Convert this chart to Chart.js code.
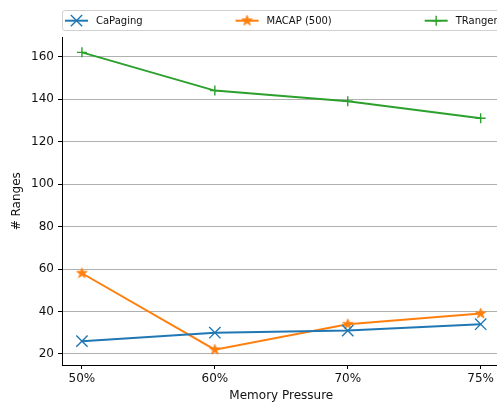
<!DOCTYPE html>
<html>
<head>
<meta charset="utf-8">
<script src="https://cdn.jsdelivr.net/npm/chart.js@4/dist/chart.umd.min.js"></script>
<style>
  html, body { margin: 0; padding: 0; background: #fff; overflow: hidden; }
  #wrap { width: 510px; height: 405px; }
</style>
</head>
<body>
<div id="wrap"><canvas id="c" width="510" height="405"></canvas></div>
<script>
// Memory pressure levels on the x axis
const categories = ['50%', '60%', '70%', '75%'];
// Number of ranges per scheme
const caPaging = [26, 30, 31, 34];
const macap500 = [58, 22, 34, 39];
const tranger = [162, 144, 139, 131];
// Y tick values
const yTicks = [20, 40, 60, 80, 100, 120, 140, 160];

const FONT = 'DejaVu Sans';
const BLUE = '#1f77b4', ORANGE = '#ff7f0e', GREEN = '#2ca02c';

// Filled five-point star marker
function makeStar(color, R) {
  const size = Math.ceil(R * 2 + 4);
  const cv = document.createElement('canvas');
  cv.width = size; cv.height = size;
  const g = cv.getContext('2d');
  const c = size / 2, r = R * 0.382;
  g.beginPath();
  for (let i = 0; i < 10; i++) {
    const rad = (i % 2 === 0 ? R : r);
    const a = -Math.PI / 2 + i * Math.PI / 5;
    const px = c + rad * Math.cos(a), py = c + rad * Math.sin(a);
    if (i === 0) g.moveTo(px, py); else g.lineTo(px, py);
  }
  g.closePath();
  g.fillStyle = color; g.fill();
  g.strokeStyle = color; g.lineWidth = 1; g.lineJoin = 'miter'; g.stroke();
  return cv;
}
const starImg = makeStar(ORANGE, 5.4);

const toPoints = arr => arr.map((v, i) => ({ x: i, y: v }));

const series = [
  { label: 'CaPaging', data: caPaging, color: BLUE, style: 'crossRot', radius: 8 },
  { label: 'MACAP (500)', data: macap500, color: ORANGE, style: starImg, radius: 6 },
  { label: 'TRanger', data: tranger, color: GREEN, style: 'cross', radius: 5 }
];

function drawMarker(ctx, s, x, y) {
  ctx.save();
  ctx.strokeStyle = s.color;
  ctx.lineWidth = 1.4;
  ctx.beginPath();
  if (s.style === 'crossRot') {
    const d = s.radius * Math.SQRT1_2;
    ctx.moveTo(x - d, y - d); ctx.lineTo(x + d, y + d);
    ctx.moveTo(x - d, y + d); ctx.lineTo(x + d, y - d);
    ctx.stroke();
  } else if (s.style === 'cross') {
    const d = s.radius;
    ctx.moveTo(x - d, y); ctx.lineTo(x + d, y);
    ctx.moveTo(x, y - d); ctx.lineTo(x, y + d);
    ctx.stroke();
  } else {
    ctx.drawImage(s.style, x - s.style.width / 2, y - s.style.height / 2);
  }
  ctx.restore();
}

// Legend laid out in one row spanning the plot width
const rowLegend = {
  id: 'rowLegend',
  afterDraw(chart) {
    const { ctx, chartArea } = chart;
    const left = chartArea.left, right = chartArea.right;
    const top = 10.5, bottom = 30.5, cy = 20.7;
    ctx.save();
    ctx.beginPath();
    if (ctx.roundRect) ctx.roundRect(left + 0.5, top, right - left - 1, bottom - top, 2.5);
    else ctx.rect(left + 0.5, top, right - left - 1, bottom - top);
    ctx.fillStyle = 'rgba(255,255,255,0.8)';
    ctx.fill();
    ctx.strokeStyle = '#d0d0d0';
    ctx.lineWidth = 1;
    ctx.stroke();

    ctx.font = '10px "' + FONT + '"';
    const handle = 23, pad = 8;
    const widths = series.map(s => handle + pad + ctx.measureText(s.label).width);
    const start = left + 3, end = right - 3;
    const gap = (end - start - widths.reduce((a, b) => a + b, 0)) / (series.length - 1);
    let x = start;
    series.forEach((s, i) => {
      ctx.strokeStyle = s.color;
      ctx.lineWidth = 2;
      ctx.beginPath();
      ctx.moveTo(x, cy); ctx.lineTo(x + handle, cy);
      ctx.stroke();
      drawMarker(ctx, s, x + handle / 2, cy);
      ctx.fillStyle = '#111';
      ctx.textBaseline = 'middle';
      ctx.textAlign = 'left';
      ctx.fillText(s.label, x + handle + pad, cy + 0.5);
      x += widths[i] + gap;
    });
    ctx.restore();
  }
};

new Chart(document.getElementById('c'), {
  type: 'line',
  data: {
    datasets: series.map(s => ({
      label: s.label,
      data: toPoints(s.data),
      borderColor: s.color,
      backgroundColor: s.color,
      borderWidth: 2,
      pointStyle: s.style,
      pointRadius: s.radius,
      pointHoverRadius: s.radius,
      pointBorderWidth: 1.4,
      pointBorderColor: s.color,
      pointBackgroundColor: s.color,
      fill: false,
      tension: 0
    }))
  },
  options: {
    responsive: false,
    animation: false,
    devicePixelRatio: 1,
    layout: { padding: { top: 37.5, right: 8, left: 0, bottom: 0 } },
    plugins: { legend: { display: false }, tooltip: { enabled: false } },
    scales: {
      x: {
        type: 'linear',
        min: -0.15,
        max: 3.15,
        afterBuildTicks: sc => { sc.ticks = categories.map((_, i) => ({ value: i })); },
        afterFit: sc => { sc.height = 40; },
        ticks: {
          callback: v => categories[v],
          font: { family: FONT, size: 12 },
          color: '#111',
          padding: 3,
          maxRotation: 0,
          autoSkip: false
        },
        grid: { drawOnChartArea: false, drawTicks: true, tickLength: 4, tickColor: '#000', tickWidth: 1 },
        border: { display: true, color: '#000', width: 1 },
        title: {
          display: true,
          text: 'Memory Pressure',
          font: { family: FONT, size: 12 },
          color: '#111',
          padding: { top: 0, bottom: 2 }
        }
      },
      y: {
        min: 14.8,
        max: 169,
        afterBuildTicks: sc => { sc.ticks = yTicks.map(v => ({ value: v })); },
        afterFit: sc => { sc.width = 62; },
        ticks: {
          font: { family: FONT, size: 12 },
          color: '#111',
          padding: 4,
          autoSkip: false
        },
        grid: { color: '#b0b0b0', lineWidth: 1, drawTicks: true, tickLength: 4, tickColor: '#000', tickWidth: 1 },
        border: { display: true, color: '#000', width: 1 },
        title: {
          display: true,
          text: '# Ranges',
          font: { family: FONT, size: 12 },
          color: '#111',
          padding: { top: 10, bottom: 0 }
        }
      }
    }
  },
  plugins: [rowLegend]
});
</script>
</body>
</html>
